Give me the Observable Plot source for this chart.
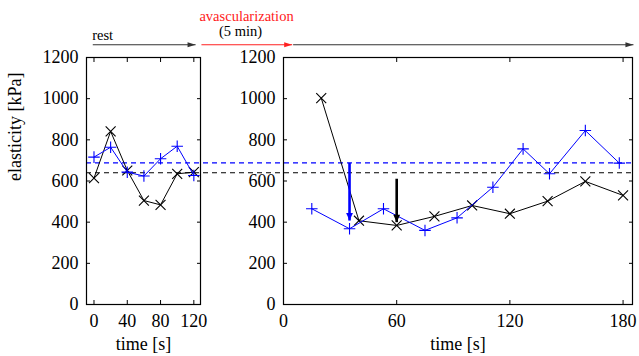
<!DOCTYPE html>
<html><head><meta charset="utf-8">
<script src="https://cdn.jsdelivr.net/npm/d3@7"></script>
<script src="https://cdn.jsdelivr.net/npm/@observablehq/plot@0.6"></script>
<style>
html,body{margin:0;padding:0;background:#fff;}
#wrap{position:relative;width:639px;height:356px;}
#wrap svg{position:absolute;left:0;top:0;}
#wrap svg text{font-family:"Liberation Serif",serif;}
</style></head><body><div id="wrap"></div>
<script>
// ---- data: rest phase (left panel) ----
const restTime  = [0, 20, 40, 60, 80, 100, 120];
const restBlack = [614, 841, 651, 505, 484, 635, 643];
const restBlue  = [716, 764, 643, 624, 708, 769, 627];
// ---- data: after avascularization (right panel) ----
const recTimeBlack = [20, 40, 60, 80, 100, 120, 140, 160, 180];
const recBlack     = [1003, 407, 384, 428, 481, 441, 502, 598, 530];
const recTimeBlue  = [15, 35, 53, 75, 92, 111, 127, 141, 160, 178];
const recBlue      = [465, 368, 465, 360, 421, 570, 756, 635, 845, 687];
// ---- baselines (dashed) ----
const baselineValues = [688, 640];
const baselineColors = ["blue", "black"];
// ---- vertical arrows (drop markers) ----
const dropTime = [35, 60];
const dropFrom = [688, 611];
const dropTo   = [408, 400];
const dropColors = ["blue", "black"];
// ---- ticks / labels ----
const yTicks = [0, 200, 400, 600, 800, 1000, 1200];
const xTicksRest = [0, 40, 80, 120];
const xTicksRec = [0, 60, 120, 180];
const yLabel = "elasticity [kPa]";
const xLabel = "time [s]";
// ---- phase annotations (in right-panel time units, above the frame) ----
const phaseLabels = ["rest", "avascularization", "(5 min)"];
const phaseArrowStart = [-101.1, -43.5, 5.1];
const phaseArrowEnd   = [-46.6, 4.6, 185.5];
const phaseArrowColor = ["#333", "#ff2020", "#333"];

const FONT = "Liberation Serif";
const yAnn = 1262;

const lineData = (t, v) => t.map((d, i) => ({t: d, v: v[i]}));
const rb = lineData(restTime, restBlack), rl = lineData(restTime, restBlue);
const cb = lineData(recTimeBlack, recBlack), cl = lineData(recTimeBlue, recBlue);
const base = baselineValues.map((v, i) => ({v, c: baselineColors[i]}));
const drops = dropTime.map((t, i) => ({t, y1: dropFrom[i], y2: dropTo[i], c: dropColors[i]}));
const phases = phaseArrowStart.map((s, i) => ({x1: s, x2: phaseArrowEnd[i], c: phaseArrowColor[i]}));

const headRight = {draw(ctx) { ctx.moveTo(0, 0); ctx.lineTo(-8, -2.4); ctx.lineTo(-8, 2.4); ctx.closePath(); }};
const headDown  = {draw(ctx) { ctx.moveTo(0, 0); ctx.lineTo(-3.4, -7.5); ctx.lineTo(3.4, -7.5); ctx.closePath(); }};

const R = {w: 639, ml: 283, mr: 7, x0: 0, x1: 185};
const L = {w: 210, ml: 86, mr: 10, x0: -9, x1: 128};
const rPerS = (R.w - R.ml - R.mr) / (R.x1 - R.x0);
const dashStart = (L.ml - R.ml) / rPerS;

const common = {height: 356, marginTop: 57, marginBottom: 52,
  y: {domain: [0, 1200]},
  style: {fontFamily: FONT, fontSize: "18px", background: "transparent", color: "black", overflow: "visible"}};

const fmt = d => String(d);
const none = () => "";
function axes(xTicks) {
  return [
    // labels
    Plot.axisY(yTicks, {anchor: "left", tickSize: 0, tickPadding: 8, tickFormat: fmt, label: null, fontSize: 18, fontFamily: FONT, fontVariant: "normal"}),
    Plot.axisX(xTicks, {anchor: "bottom", tickSize: 0, tickPadding: 10, tickFormat: fmt, label: null, fontSize: 18, fontFamily: FONT, fontVariant: "normal"}),
    // inward mirrored ticks
    Plot.axisY(yTicks, {anchor: "left", tickSize: 4, dx: 4, tickFormat: none, label: null}),
    Plot.axisY(yTicks, {anchor: "right", tickSize: 4, dx: -4, tickFormat: none, label: null}),
    Plot.axisX(xTicks, {anchor: "bottom", tickSize: 4, dy: -4, tickFormat: none, label: null}),
    Plot.axisX(xTicks, {anchor: "top", tickSize: 4, dy: 4, tickFormat: none, label: null}),
    Plot.frame({stroke: "black", strokeWidth: 1.2})
  ];
}
function series(black, blue) {
  return [
    Plot.line(black, {x: "t", y: "v", stroke: "black", strokeWidth: 1}),
    Plot.dot(black, {x: "t", y: "v", symbol: "times", r: 4.6, stroke: "black", strokeWidth: 1.1}),
    Plot.line(blue, {x: "t", y: "v", stroke: "blue", strokeWidth: 1}),
    Plot.dot(blue, {x: "t", y: "v", symbol: "plus", r: 3.8, stroke: "blue", strokeWidth: 1.1})
  ];
}

const right = Plot.plot({
  ...common, width: R.w, marginLeft: R.ml, marginRight: R.mr,
  x: {domain: [R.x0, R.x1]},
  marks: [
    Plot.ruleY(base, {y: "v", x1: dashStart, x2: R.x1, stroke: "c", strokeWidth: 1.2, strokeDasharray: "5,4"}),
    ...series(cb, cl),
    Plot.link(drops, {x1: "t", x2: "t", y1: "y1", y2: "y2", stroke: "c", strokeWidth: 2.6}),
    Plot.dot(drops, {x: "t", y: "y2", symbol: headDown, fill: "c", stroke: "none"}),
    ...axes(xTicksRec),
    Plot.text([xLabel], {frameAnchor: "bottom", dy: 45, lineAnchor: "bottom", fontSize: 18}),
    Plot.link(phases, {x1: "x1", x2: "x2", y1: yAnn, y2: yAnn, stroke: "c", strokeWidth: 1.1}),
    Plot.dot(phases, {x: "x2", y: yAnn, symbol: headRight, fill: "c", stroke: "none"}),
    Plot.text([phaseLabels[0]], {x: -101.4, y: yAnn, dy: -5, textAnchor: "start", lineAnchor: "bottom", fontSize: 14.5}),
    Plot.text([phaseLabels[1]], {x: -19.6, y: yAnn, dy: -24, lineAnchor: "bottom", fontSize: 14.5, fill: "#ff1a1a"}),
    Plot.text([phaseLabels[2]], {x: -22.8, y: yAnn, dy: -9, lineAnchor: "bottom", fontSize: 14.5})
  ]
});

const left = Plot.plot({
  ...common, width: L.w, marginLeft: L.ml, marginRight: L.mr,
  x: {domain: [L.x0, L.x1]},
  marks: [
    ...series(rb, rl),
    ...axes(xTicksRest),
    Plot.text([yLabel], {frameAnchor: "left", dx: -71, rotate: -90, fontSize: 18}),
    Plot.text([xLabel], {frameAnchor: "bottom", dy: 45, lineAnchor: "bottom", fontSize: 18})
  ]
});

const wrap = document.getElementById("wrap");
wrap.appendChild(right);
wrap.appendChild(left);
</script></body></html>
